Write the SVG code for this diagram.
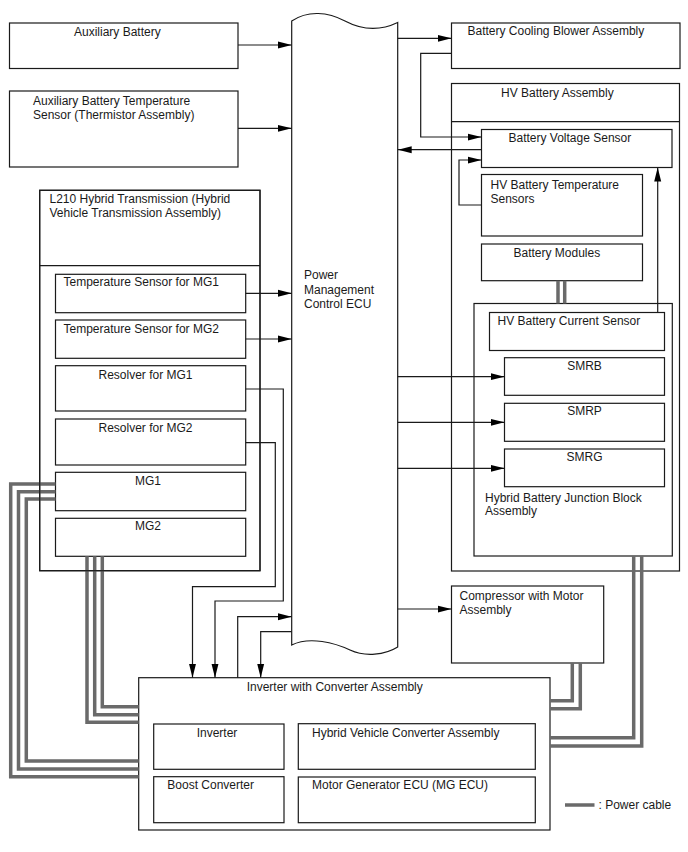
<svg xmlns="http://www.w3.org/2000/svg" width="688" height="852" viewBox="0 0 688 852">
<style>
.box{fill:#fff;stroke:#1a1a1a;stroke-width:1.2}
.t{font-family:"Liberation Sans",Arial,sans-serif;font-size:12px;fill:#1a1a1a}
.ln{fill:none;stroke:#1a1a1a;stroke-width:1.2}
.pc{fill:none;stroke:#6a6a6a;stroke-width:3.5}
</style>
<defs>
<marker id="ah" markerUnits="userSpaceOnUse" markerWidth="14" markerHeight="8" refX="14" refY="4" orient="auto">
<path d="M0,0.5 L14,4 L0,7.5 Z" fill="#000"/>
</marker>
</defs>
<rect width="688" height="852" fill="#fff"/>

<g id="aux-battery">
<rect class="box" x="9.5" y="23" width="228.5" height="45.5"/>
<text class="t" x="74" y="36">Auxiliary Battery</text>
</g>
<g id="aux-temp">
<rect class="box" x="9.5" y="91" width="228.5" height="76"/>
<text class="t" x="33" y="104.5">Auxiliary Battery Temperature</text>
<text class="t" x="33" y="118.5">Sensor (Thermistor Assembly)</text>
</g>

<g id="ecu">
<path class="box" d="M291.7,21 C308,10 328,12 345,21 C362,30 380,31 397.7,22.5 L397.7,647 C385,655 365,657 350,650 C335,643 310,636 291.7,645 Z"/>
<text class="t" x="304" y="279">Power</text>
<text class="t" x="304" y="293.5">Management</text>
<text class="t" x="304" y="307.5">Control ECU</text>
</g>

<g id="blower">
<rect class="box" x="451.5" y="23" width="228.5" height="45.5"/>
<text class="t" x="467.5" y="34.5">Battery Cooling Blower Assembly</text>
</g>

<g id="hv-battery">
<rect class="box" x="451.5" y="83.5" width="228" height="487.5"/>
<line class="ln" x1="451.5" y1="121.7" x2="679.5" y2="121.7"/>
<text class="t" x="501" y="97">HV Battery Assembly</text>
</g>
<g id="bvs">
<rect class="box" x="481.5" y="129.5" width="190.5" height="38"/>
<text class="t" x="508.5" y="141.5">Battery Voltage Sensor</text>
</g>
<g id="hvbts">
<rect class="box" x="481.5" y="174.5" width="161" height="61.5"/>
<text class="t" x="490.5" y="188.5">HV Battery Temperature</text>
<text class="t" x="490.5" y="202.5">Sensors</text>
</g>
<g id="modules">
<rect class="box" x="481.5" y="244" width="161" height="36.7"/>
<text class="t" x="513.5" y="256.5">Battery Modules</text>
</g>
<g id="junction">
<rect class="box" x="474" y="303.5" width="198.3" height="252.5"/>
<text class="t" x="485" y="501.5">Hybrid Battery Junction Block</text>
<text class="t" x="485" y="515">Assembly</text>
</g>
<g id="hvbcs">
<rect class="box" x="489.5" y="312.5" width="175" height="38"/>
<text class="t" x="497.5" y="325">HV Battery Current Sensor</text>
</g>
<g id="smrb">
<rect class="box" x="504.5" y="357.7" width="160" height="37.6"/>
<text class="t" x="584.5" y="369.5" text-anchor="middle">SMRB</text>
</g>
<g id="smrp">
<rect class="box" x="504.5" y="403.3" width="160" height="38"/>
<text class="t" x="584.5" y="415" text-anchor="middle">SMRP</text>
</g>
<g id="smrg">
<rect class="box" x="504.5" y="449" width="160" height="37.7"/>
<text class="t" x="584.5" y="460.7" text-anchor="middle">SMRG</text>
</g>

<g id="compressor">
<rect class="box" x="451.5" y="586" width="152.2" height="77"/>
<text class="t" x="459.5" y="600">Compressor with Motor</text>
<text class="t" x="459.5" y="614">Assembly</text>
</g>

<g id="l210">
<rect class="box" x="39.7" y="190.3" width="220.3" height="380.4"/>
<line class="ln" x1="39.7" y1="265.7" x2="260" y2="265.7"/>
<text class="t" x="49.5" y="203">L210 Hybrid Transmission (Hybrid</text>
<text class="t" x="49.5" y="217">Vehicle Transmission Assembly)</text>
</g>
<g id="ts-mg1">
<rect class="box" x="55.5" y="274.3" width="190.2" height="38.4"/>
<text class="t" x="63.5" y="286">Temperature Sensor for MG1</text>
</g>
<g id="ts-mg2">
<rect class="box" x="55.5" y="320" width="190.2" height="38.3"/>
<text class="t" x="63.5" y="332.5">Temperature Sensor for MG2</text>
</g>
<g id="res-mg1">
<rect class="box" x="55.5" y="365.7" width="190.2" height="45.3"/>
<text class="t" x="98.5" y="378.5">Resolver for MG1</text>
</g>
<g id="res-mg2">
<rect class="box" x="55.5" y="419" width="190.2" height="46"/>
<text class="t" x="98.5" y="432.3">Resolver for MG2</text>
</g>
<g id="mg1">
<rect class="box" x="55.5" y="472.3" width="190.2" height="38.4"/>
<text class="t" x="148" y="485" text-anchor="middle">MG1</text>
</g>
<g id="mg2">
<rect class="box" x="55.5" y="518.3" width="190.2" height="38"/>
<text class="t" x="148" y="530" text-anchor="middle">MG2</text>
</g>

<g id="inverter-assy">
<rect class="box" x="138.7" y="677.7" width="411.3" height="152.3"/>
<text class="t" x="246.7" y="690.7">Inverter with Converter Assembly</text>
</g>
<g id="inverter">
<rect class="box" x="153.7" y="724" width="130.3" height="45.3"/>
<text class="t" x="196.7" y="736.7">Inverter</text>
</g>
<g id="boost">
<rect class="box" x="153.7" y="776.7" width="130.3" height="46"/>
<text class="t" x="167.3" y="789.3">Boost Converter</text>
</g>
<g id="hvca">
<rect class="box" x="298.3" y="723.7" width="237" height="45.6"/>
<text class="t" x="312" y="736.7">Hybrid Vehicle Converter Assembly</text>
</g>
<g id="mgecu">
<rect class="box" x="298.3" y="777" width="237" height="45.7"/>
<text class="t" x="312" y="789.3">Motor Generator ECU (MG ECU)</text>
</g>

<g id="connectors">
<line class="ln" x1="238" y1="45" x2="291.7" y2="45" marker-end="url(#ah)"/>
<line class="ln" x1="238" y1="128.3" x2="291.7" y2="128.3" marker-end="url(#ah)"/>
<line class="ln" x1="397.7" y1="38.3" x2="451.5" y2="38.3" marker-end="url(#ah)"/>
<polyline class="ln" points="451.5,53.3 420.7,53.3 420.7,137 481.5,137" marker-end="url(#ah)"/>
<line class="ln" x1="481.5" y1="149.7" x2="397.7" y2="149.7" marker-end="url(#ah)"/>
<polyline class="ln" points="481.5,205 459,205 459,160 481.5,160" marker-end="url(#ah)"/>
<line class="ln" x1="657.7" y1="312.5" x2="657.7" y2="167.5" marker-end="url(#ah)"/>
<line class="ln" x1="397.7" y1="376.7" x2="504.5" y2="376.7" marker-end="url(#ah)"/>
<line class="ln" x1="397.7" y1="422.3" x2="504.5" y2="422.3" marker-end="url(#ah)"/>
<line class="ln" x1="397.7" y1="468.3" x2="504.5" y2="468.3" marker-end="url(#ah)"/>
<line class="ln" x1="397.7" y1="609" x2="451.5" y2="609" marker-end="url(#ah)"/>
<line class="ln" x1="245.7" y1="293.3" x2="291.7" y2="293.3" marker-end="url(#ah)"/>
<line class="ln" x1="245.7" y1="339" x2="291.7" y2="339" marker-end="url(#ah)"/>
<polyline class="ln" points="245.7,389 283.3,389 283.3,601 215,601 215,677.7" marker-end="url(#ah)"/>
<polyline class="ln" points="245.7,442.7 275.3,442.7 275.3,586.7 192.5,586.7 192.5,677.7" marker-end="url(#ah)"/>
<polyline class="ln" points="237.7,677.7 237.7,616.7 291.7,616.7" marker-end="url(#ah)"/>
<polyline class="ln" points="291.7,631.7 260.7,631.7 260.7,677.7" marker-end="url(#ah)"/>

<g id="power-cables">
<line class="pc" x1="558" y1="280.7" x2="558" y2="303.5"/>
<line class="pc" x1="564.7" y1="280.7" x2="564.7" y2="303.5"/>
<polyline class="pc" points="55.5,484 10.7,484 10.7,776.7 138.7,776.7"/>
<polyline class="pc" points="55.5,491.7 18.5,491.7 18.5,769 138.7,769"/>
<polyline class="pc" points="55.5,499 26.3,499 26.3,761 138.7,761"/>
<polyline class="pc" points="87,556.3 87,722.3 138.7,722.3"/>
<polyline class="pc" points="94.7,556.3 94.7,714.7 138.7,714.7"/>
<polyline class="pc" points="102.3,556.3 102.3,706.7 138.7,706.7"/>
<polyline class="pc" points="572.3,663 572.3,700.7 550,700.7"/>
<polyline class="pc" points="580.3,663 580.3,708.7 550,708.7"/>
<polyline class="pc" points="633.7,556 633.7,737.7 550,737.7"/>
<polyline class="pc" points="641.7,556 641.7,746 550,746"/>
</g>
<rect x="39.7" y="190.3" width="220.3" height="380.4" fill="none" stroke="#1a1a1a" stroke-width="1.2"/>
</g>

<g id="legend">
<line class="pc" x1="565" y1="805" x2="594.5" y2="805"/>
<text class="t" x="598.5" y="808.5">: Power cable</text>
</g>
</svg>
